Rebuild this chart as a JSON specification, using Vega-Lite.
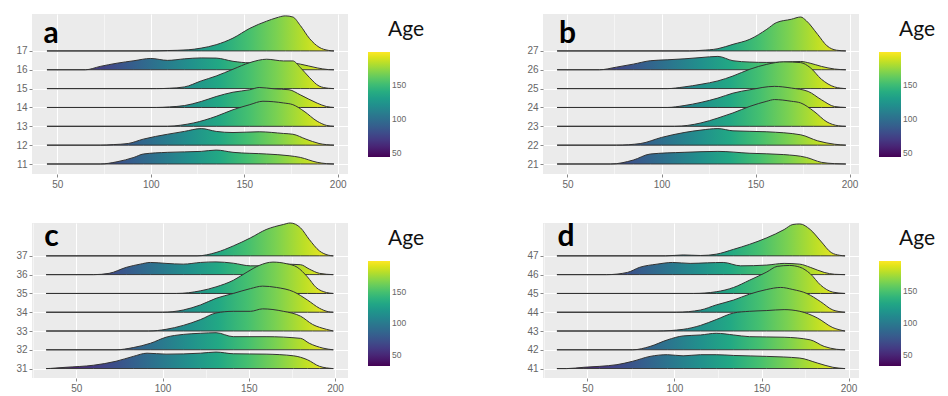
{
"$schema": "https://vega.github.io/schema/vega-lite/v6.json",
"padding": {"left": 15, "top": 13, "right": 0, "bottom": 0},
"config": {
 "font": "Liberation Sans",
 "view": {"fill": "#ebebeb", "stroke": null},
 "axis": {"domain": false, "labelFontSize": 10, "labelColor": "#666666", "tickColor": "#888888", "tickSize": 3, "labelPadding": 2, "gridColor": "#ffffff", "labelOverlap": false},
 "legend": {"orient": "right", "offset": 15, "padding": 5, "gradientLength": 105, "gradientThickness": 22, "gradientStrokeWidth": 0, "labelFontSize": 8.5, "labelColor": "#666666", "labelOffset": 7, "titleFont": "Lato", "titleFontSize": 21, "titleFontWeight": "normal", "titleColor": "#111111", "titlePadding": 12, "titleAnchor": "end", "titleAlign": "center"}
},
"datasets": {
"A": [
{"s":17,"x":44.5,"y":17},{"s":17,"x":100,"y":17},{"s":17,"x":109,"y":17.02},{"s":17,"x":120,"y":17.06},{"s":17,"x":127,"y":17.15},{"s":17,"x":135,"y":17.33},{"s":17,"x":144,"y":17.68},{"s":17,"x":153,"y":18.2},{"s":17,"x":162,"y":18.58},{"s":17,"x":167,"y":18.75},{"s":17,"x":172,"y":18.86},{"s":17,"x":176,"y":18.8},{"s":17,"x":180,"y":18.35},{"s":17,"x":185,"y":17.65},{"s":17,"x":190,"y":17.2},{"s":17,"x":195,"y":17.03},{"s":17,"x":198,"y":17},
{"s":16,"x":44.5,"y":16},{"s":16,"x":65,"y":16},{"s":16,"x":73,"y":16.18},{"s":16,"x":82,"y":16.35},{"s":16,"x":91,"y":16.48},{"s":16,"x":100,"y":16.6},{"s":16,"x":109,"y":16.5},{"s":16,"x":118,"y":16.58},{"s":16,"x":127,"y":16.63},{"s":16,"x":135,"y":16.62},{"s":16,"x":144,"y":16.45},{"s":16,"x":153,"y":16.37},{"s":16,"x":162,"y":16.4},{"s":16,"x":171,"y":16.4},{"s":16,"x":180,"y":16.3},{"s":16,"x":189,"y":16.1},{"s":16,"x":195,"y":16.01},{"s":16,"x":198,"y":16},
{"s":15,"x":44.5,"y":15},{"s":15,"x":103,"y":15},{"s":15,"x":110,"y":15.02},{"s":15,"x":118,"y":15.09},{"s":15,"x":127,"y":15.41},{"s":15,"x":135,"y":15.67},{"s":15,"x":144,"y":16.03},{"s":15,"x":153,"y":16.38},{"s":15,"x":162,"y":16.56},{"s":15,"x":171,"y":16.47},{"s":15,"x":176,"y":16.47},{"s":15,"x":180,"y":16.12},{"s":15,"x":185,"y":15.58},{"s":15,"x":190,"y":15.14},{"s":15,"x":195,"y":15.02},{"s":15,"x":198,"y":15},
{"s":14,"x":44.5,"y":14},{"s":14,"x":103,"y":14},{"s":14,"x":110,"y":14.03},{"s":14,"x":118,"y":14.1},{"s":14,"x":127,"y":14.32},{"s":14,"x":135,"y":14.58},{"s":14,"x":144,"y":14.81},{"s":14,"x":153,"y":14.94},{"s":14,"x":158,"y":15.06},{"s":14,"x":166,"y":14.99},{"s":14,"x":174,"y":14.94},{"s":14,"x":180,"y":14.67},{"s":14,"x":189,"y":14.23},{"s":14,"x":194,"y":14.05},{"s":14,"x":198,"y":14},
{"s":13,"x":44.5,"y":13},{"s":13,"x":109,"y":13},{"s":13,"x":116,"y":13.06},{"s":13,"x":123,"y":13.18},{"s":13,"x":135,"y":13.53},{"s":13,"x":144,"y":13.88},{"s":13,"x":153,"y":14.15},{"s":13,"x":160,"y":14.33},{"s":13,"x":171,"y":14.24},{"s":13,"x":176,"y":14.15},{"s":13,"x":182,"y":13.8},{"s":13,"x":189,"y":13.27},{"s":13,"x":194,"y":13.05},{"s":13,"x":198,"y":13},
{"s":12,"x":44.5,"y":12},{"s":12,"x":73,"y":12},{"s":12,"x":80,"y":12.03},{"s":12,"x":88,"y":12.09},{"s":12,"x":96,"y":12.32},{"s":12,"x":109,"y":12.58},{"s":12,"x":118,"y":12.73},{"s":12,"x":127,"y":12.88},{"s":12,"x":135,"y":12.73},{"s":12,"x":144,"y":12.67},{"s":12,"x":158,"y":12.71},{"s":12,"x":171,"y":12.62},{"s":12,"x":176,"y":12.58},{"s":12,"x":183,"y":12.32},{"s":12,"x":190,"y":12.09},{"s":12,"x":198,"y":12},
{"s":11,"x":44.5,"y":11},{"s":11,"x":73,"y":11},{"s":11,"x":82,"y":11.12},{"s":11,"x":91,"y":11.35},{"s":11,"x":96,"y":11.53},{"s":11,"x":109,"y":11.62},{"s":11,"x":127,"y":11.67},{"s":11,"x":135,"y":11.74},{"s":11,"x":144,"y":11.62},{"s":11,"x":162,"y":11.53},{"s":11,"x":174,"y":11.44},{"s":11,"x":180,"y":11.35},{"s":11,"x":189,"y":11.09},{"s":11,"x":194,"y":11.02},{"s":11,"x":198,"y":11}
],
"B": [
{"s":27,"x":44.5,"y":27},{"s":27,"x":115,"y":27},{"s":27,"x":121,"y":27.03},{"s":27,"x":130,"y":27.12},{"s":27,"x":138,"y":27.35},{"s":27,"x":147,"y":27.62},{"s":27,"x":156,"y":28.15},{"s":27,"x":161,"y":28.5},{"s":27,"x":169,"y":28.68},{"s":27,"x":174,"y":28.8},{"s":27,"x":177,"y":28.6},{"s":27,"x":183,"y":27.88},{"s":27,"x":188,"y":27.27},{"s":27,"x":193,"y":27.04},{"s":27,"x":198,"y":27},
{"s":26,"x":44.5,"y":26},{"s":26,"x":67,"y":26},{"s":26,"x":76,"y":26.14},{"s":26,"x":85,"y":26.3},{"s":26,"x":94,"y":26.48},{"s":26,"x":103,"y":26.53},{"s":26,"x":112,"y":26.58},{"s":26,"x":121,"y":26.65},{"s":26,"x":130,"y":26.71},{"s":26,"x":138,"y":26.48},{"s":26,"x":147,"y":26.41},{"s":26,"x":156,"y":26.39},{"s":26,"x":165,"y":26.41},{"s":26,"x":174,"y":26.44},{"s":26,"x":179,"y":26.35},{"s":26,"x":185,"y":26.18},{"s":26,"x":192,"y":26.04},{"s":26,"x":198,"y":26},
{"s":25,"x":44.5,"y":25},{"s":25,"x":103,"y":25},{"s":25,"x":112,"y":25.09},{"s":25,"x":121,"y":25.23},{"s":25,"x":130,"y":25.41},{"s":25,"x":138,"y":25.67},{"s":25,"x":147,"y":26.03},{"s":25,"x":156,"y":26.29},{"s":25,"x":165,"y":26.42},{"s":25,"x":174,"y":26.38},{"s":25,"x":179,"y":26.12},{"s":25,"x":185,"y":25.5},{"s":25,"x":192,"y":25.09},{"s":25,"x":198,"y":25},
{"s":24,"x":44.5,"y":24},{"s":24,"x":103,"y":24},{"s":24,"x":112,"y":24.1},{"s":24,"x":121,"y":24.27},{"s":24,"x":130,"y":24.5},{"s":24,"x":138,"y":24.76},{"s":24,"x":147,"y":24.94},{"s":24,"x":160,"y":25.12},{"s":24,"x":169,"y":25.03},{"s":24,"x":178,"y":24.85},{"s":24,"x":185,"y":24.41},{"s":24,"x":192,"y":24.05},{"s":24,"x":198,"y":24},
{"s":23,"x":44.5,"y":23},{"s":23,"x":107,"y":23},{"s":23,"x":121,"y":23.18},{"s":23,"x":130,"y":23.44},{"s":23,"x":138,"y":23.71},{"s":23,"x":147,"y":24.06},{"s":23,"x":156,"y":24.33},{"s":23,"x":160,"y":24.42},{"s":23,"x":169,"y":24.33},{"s":23,"x":174,"y":24.24},{"s":23,"x":181,"y":23.8},{"s":23,"x":188,"y":23.23},{"s":23,"x":194,"y":23.03},{"s":23,"x":198,"y":23},
{"s":22,"x":44.5,"y":22},{"s":22,"x":76,"y":22},{"s":22,"x":89,"y":22.09},{"s":22,"x":100,"y":22.41},{"s":22,"x":112,"y":22.67},{"s":22,"x":121,"y":22.8},{"s":22,"x":130,"y":22.88},{"s":22,"x":138,"y":22.76},{"s":22,"x":156,"y":22.71},{"s":22,"x":174,"y":22.55},{"s":22,"x":183,"y":22.23},{"s":22,"x":192,"y":22.05},{"s":22,"x":198,"y":22},
{"s":21,"x":44.5,"y":21},{"s":21,"x":73,"y":21},{"s":21,"x":85,"y":21.21},{"s":21,"x":94,"y":21.53},{"s":21,"x":112,"y":21.62},{"s":21,"x":130,"y":21.67},{"s":21,"x":147,"y":21.57},{"s":21,"x":165,"y":21.5},{"s":21,"x":177,"y":21.35},{"s":21,"x":185,"y":21.09},{"s":21,"x":192,"y":21.02},{"s":21,"x":198,"y":21}
],
"C": [
{"s":37,"x":32.5,"y":37},{"s":37,"x":120,"y":37},{"s":37,"x":131,"y":37.18},{"s":37,"x":141,"y":37.53},{"s":37,"x":151,"y":37.96},{"s":37,"x":160,"y":38.4},{"s":37,"x":170,"y":38.67},{"s":37,"x":174,"y":38.75},{"s":37,"x":180,"y":38.49},{"s":37,"x":185,"y":37.88},{"s":37,"x":191,"y":37.26},{"s":37,"x":196,"y":37.04},{"s":37,"x":199,"y":37},
{"s":36,"x":32.5,"y":36},{"s":36,"x":60,"y":36},{"s":36,"x":69,"y":36.07},{"s":36,"x":79,"y":36.39},{"s":36,"x":87,"y":36.56},{"s":36,"x":93,"y":36.65},{"s":36,"x":102,"y":36.6},{"s":36,"x":112,"y":36.56},{"s":36,"x":122,"y":36.65},{"s":36,"x":131,"y":36.68},{"s":36,"x":141,"y":36.61},{"s":36,"x":151,"y":36.47},{"s":36,"x":160,"y":36.47},{"s":36,"x":170,"y":36.56},{"s":36,"x":180,"y":36.53},{"s":36,"x":185,"y":36.3},{"s":36,"x":191,"y":36.07},{"s":36,"x":199,"y":36},
{"s":35,"x":32.5,"y":35},{"s":35,"x":108,"y":35},{"s":35,"x":122,"y":35.14},{"s":35,"x":131,"y":35.35},{"s":35,"x":141,"y":35.7},{"s":35,"x":149,"y":36.14},{"s":35,"x":156,"y":36.49},{"s":35,"x":164,"y":36.67},{"s":35,"x":172,"y":36.58},{"s":35,"x":178,"y":36.4},{"s":35,"x":184,"y":35.88},{"s":35,"x":189,"y":35.32},{"s":35,"x":195,"y":35.05},{"s":35,"x":199,"y":35},
{"s":34,"x":32.5,"y":34},{"s":34,"x":100,"y":34},{"s":34,"x":112,"y":34.12},{"s":34,"x":122,"y":34.39},{"s":34,"x":131,"y":34.74},{"s":34,"x":141,"y":35},{"s":34,"x":151,"y":35.26},{"s":34,"x":158,"y":35.39},{"s":34,"x":166,"y":35.32},{"s":34,"x":176,"y":35.09},{"s":34,"x":184,"y":34.65},{"s":34,"x":191,"y":34.21},{"s":34,"x":196,"y":34.03},{"s":34,"x":199,"y":34},
{"s":33,"x":32.5,"y":33},{"s":33,"x":92,"y":33},{"s":33,"x":102,"y":33.09},{"s":33,"x":112,"y":33.3},{"s":33,"x":122,"y":33.61},{"s":33,"x":131,"y":33.96},{"s":33,"x":141,"y":34.05},{"s":33,"x":151,"y":34.05},{"s":33,"x":158,"y":34.18},{"s":33,"x":170,"y":34.05},{"s":33,"x":180,"y":33.79},{"s":33,"x":187,"y":33.35},{"s":33,"x":195,"y":33.09},{"s":33,"x":199,"y":33},
{"s":32,"x":32.5,"y":32},{"s":32,"x":73,"y":32},{"s":32,"x":83,"y":32.12},{"s":32,"x":93,"y":32.35},{"s":32,"x":102,"y":32.67},{"s":32,"x":112,"y":32.82},{"s":32,"x":122,"y":32.88},{"s":32,"x":131,"y":32.91},{"s":32,"x":141,"y":32.7},{"s":32,"x":160,"y":32.7},{"s":32,"x":180,"y":32.61},{"s":32,"x":185,"y":32.35},{"s":32,"x":193,"y":32.09},{"s":32,"x":199,"y":32},
{"s":31,"x":32.5,"y":31},{"s":31,"x":35,"y":31.01},{"s":31,"x":44,"y":31.07},{"s":31,"x":60,"y":31.18},{"s":31,"x":73,"y":31.39},{"s":31,"x":83,"y":31.65},{"s":31,"x":91,"y":31.82},{"s":31,"x":102,"y":31.77},{"s":31,"x":122,"y":31.82},{"s":31,"x":131,"y":31.88},{"s":31,"x":141,"y":31.79},{"s":31,"x":160,"y":31.77},{"s":31,"x":176,"y":31.68},{"s":31,"x":184,"y":31.47},{"s":31,"x":191,"y":31.12},{"s":31,"x":199,"y":31}
],
"D": [
{"s":47,"x":32.5,"y":47},{"s":47,"x":95,"y":47},{"s":47,"x":105,"y":47.05},{"s":47,"x":115,"y":47.02},{"s":47,"x":124,"y":47.09},{"s":47,"x":134,"y":47.35},{"s":47,"x":143,"y":47.61},{"s":47,"x":153,"y":47.96},{"s":47,"x":163,"y":48.4},{"s":47,"x":168,"y":48.67},{"s":47,"x":172,"y":48.7},{"s":47,"x":178,"y":48.4},{"s":47,"x":184,"y":47.79},{"s":47,"x":190,"y":47.18},{"s":47,"x":195,"y":47.03},{"s":47,"x":198,"y":47},
{"s":46,"x":32.5,"y":46},{"s":46,"x":61,"y":46},{"s":46,"x":73,"y":46.12},{"s":46,"x":80,"y":46.39},{"s":46,"x":90,"y":46.56},{"s":46,"x":99,"y":46.65},{"s":46,"x":109,"y":46.6},{"s":46,"x":119,"y":46.63},{"s":46,"x":128,"y":46.65},{"s":46,"x":138,"y":46.47},{"s":46,"x":153,"y":46.51},{"s":46,"x":163,"y":46.6},{"s":46,"x":172,"y":46.56},{"s":46,"x":178,"y":46.39},{"s":46,"x":186,"y":46.12},{"s":46,"x":192,"y":46.02},{"s":46,"x":198,"y":46},
{"s":45,"x":32.5,"y":45},{"s":45,"x":111,"y":45},{"s":45,"x":124,"y":45.09},{"s":45,"x":134,"y":45.32},{"s":45,"x":143,"y":45.7},{"s":45,"x":153,"y":46.14},{"s":45,"x":159,"y":46.44},{"s":45,"x":166,"y":46.49},{"s":45,"x":172,"y":46.4},{"s":45,"x":178,"y":46.05},{"s":45,"x":184,"y":45.44},{"s":45,"x":191,"y":45.07},{"s":45,"x":198,"y":45},
{"s":44,"x":32.5,"y":44},{"s":44,"x":101,"y":44},{"s":44,"x":115,"y":44.12},{"s":44,"x":124,"y":44.39},{"s":44,"x":134,"y":44.65},{"s":44,"x":143,"y":44.96},{"s":44,"x":153,"y":45.21},{"s":44,"x":161,"y":45.32},{"s":44,"x":168,"y":45.21},{"s":44,"x":176,"y":45},{"s":44,"x":184,"y":44.56},{"s":44,"x":191,"y":44.12},{"s":44,"x":198,"y":44},
{"s":43,"x":32.5,"y":43},{"s":43,"x":90,"y":43},{"s":43,"x":105,"y":43.09},{"s":43,"x":115,"y":43.3},{"s":43,"x":124,"y":43.61},{"s":43,"x":134,"y":43.96},{"s":43,"x":143,"y":44.05},{"s":43,"x":153,"y":44.09},{"s":43,"x":163,"y":44.14},{"s":43,"x":172,"y":44.05},{"s":43,"x":182,"y":43.7},{"s":43,"x":191,"y":43.18},{"s":43,"x":198,"y":43},
{"s":42,"x":32.5,"y":42},{"s":42,"x":76,"y":42},{"s":42,"x":86,"y":42.18},{"s":42,"x":96,"y":42.53},{"s":42,"x":105,"y":42.74},{"s":42,"x":115,"y":42.79},{"s":42,"x":124,"y":42.88},{"s":42,"x":134,"y":42.79},{"s":42,"x":143,"y":42.7},{"s":42,"x":163,"y":42.67},{"s":42,"x":178,"y":42.53},{"s":42,"x":186,"y":42.18},{"s":42,"x":193,"y":42.03},{"s":42,"x":198,"y":42},
{"s":41,"x":32.5,"y":41},{"s":41,"x":38,"y":41},{"s":41,"x":48,"y":41.07},{"s":41,"x":57,"y":41.12},{"s":41,"x":67,"y":41.21},{"s":41,"x":76,"y":41.39},{"s":41,"x":86,"y":41.65},{"s":41,"x":96,"y":41.74},{"s":41,"x":105,"y":41.68},{"s":41,"x":115,"y":41.74},{"s":41,"x":124,"y":41.74},{"s":41,"x":134,"y":41.7},{"s":41,"x":153,"y":41.65},{"s":41,"x":172,"y":41.56},{"s":41,"x":182,"y":41.3},{"s":41,"x":191,"y":41.07},{"s":41,"x":198,"y":41}
],
"L": [{"p":"a","x":42.6,"y":17.42},{"p":"b","x":45.5,"y":27.42},{"p":"c","x":31.4,"y":37.53},{"p":"d","x":32.8,"y":47.53}]
},
"columns": 2,
"spacing": {"row": 49, "column": 195},
"bounds": "flush",
"resolve": {"scale": {"x": "independent", "y": "independent", "color": "independent"}, "legend": {"color": "independent"}},
"concat": [
{
 "width": 316, "height": 160,
 "encoding": {
  "x": {"field": "x", "type": "quantitative", "title": null, "scale": {"domain": [36.5, 205.5], "nice": false, "zero": false},
        "axis": {"values": [50,75,100,125,150,175,200], "labelOverlap": false, "labelExpr": "datum.value % 50 === 0 ? datum.label : ''", "gridWidth": {"condition": {"test": "datum.value % 50 === 0", "value": 1.1}, "value": 0.5}, "tickOpacity": {"condition": {"test": "datum.value % 50 === 0", "value": 1}, "value": 0}}},
  "y": {"field": "y", "type": "quantitative", "title": null, "stack": null, "scale": {"domain": [10.47, 18.96], "nice": false, "zero": false}, "axis": {"values": [11,12,13,14,15,16,17], "format": "d", "gridWidth": 1.1, "labelOverlap": false}}
 },
 "layer": [
  {"data": {"name": "A"},
   "mark": {"type": "area", "interpolate": "monotone", "stroke": "#333333", "strokeWidth": 1, "fill": {"gradient": "linear", "x1": 0, "y1": 0, "x2": 1, "y2": 0, "stops": [{"offset": 0, "color": "#440154"}, {"offset": 0.1, "color": "#482475"}, {"offset": 0.2, "color": "#414487"}, {"offset": 0.3, "color": "#355f8d"}, {"offset": 0.4, "color": "#2a788e"}, {"offset": 0.5, "color": "#21918c"}, {"offset": 0.6, "color": "#22a884"}, {"offset": 0.7, "color": "#44bf70"}, {"offset": 0.8, "color": "#7ad151"}, {"offset": 0.9, "color": "#bddf26"}, {"offset": 1, "color": "#fde725"}]}},
   "encoding": {"y2": {"field": "s"}, "detail": {"field": "s", "type": "nominal"}}},
  {"data": {"name": "A"},
   "mark": {"type": "point", "filled": true, "size": 0, "opacity": 1},
   "encoding": {"color": {"field": "x", "type": "quantitative", "title": "Age", "scale": {"scheme": "viridis", "domain": [44.5, 198]}, "legend": {"values": [50, 100, 150]}}}},
  {"data": {"name": "L"}, "transform": [{"filter": "datum.p === 'a'"}],
   "mark": {"type": "text", "font": "Lato", "fontWeight": "bold", "fontSize": 30, "align": "left", "baseline": "alphabetic", "color": "#000000"},
   "encoding": {"text": {"field": "p", "type": "nominal"}}}
 ]
},
{
 "width": 316, "height": 160,
 "encoding": {
  "x": {"field": "x", "type": "quantitative", "title": null, "scale": {"domain": [37, 205], "nice": false, "zero": false},
        "axis": {"values": [50,75,100,125,150,175,200], "labelOverlap": false, "labelExpr": "datum.value % 50 === 0 ? datum.label : ''", "gridWidth": {"condition": {"test": "datum.value % 50 === 0", "value": 1.1}, "value": 0.5}, "tickOpacity": {"condition": {"test": "datum.value % 50 === 0", "value": 1}, "value": 0}}},
  "y": {"field": "y", "type": "quantitative", "title": null, "stack": null, "scale": {"domain": [20.47, 28.96], "nice": false, "zero": false}, "axis": {"values": [21,22,23,24,25,26,27], "format": "d", "gridWidth": 1.1, "labelOverlap": false}}
 },
 "layer": [
  {"data": {"name": "B"},
   "mark": {"type": "area", "interpolate": "monotone", "stroke": "#333333", "strokeWidth": 1, "fill": {"gradient": "linear", "x1": 0, "y1": 0, "x2": 1, "y2": 0, "stops": [{"offset": 0, "color": "#440154"}, {"offset": 0.1, "color": "#482475"}, {"offset": 0.2, "color": "#414487"}, {"offset": 0.3, "color": "#355f8d"}, {"offset": 0.4, "color": "#2a788e"}, {"offset": 0.5, "color": "#21918c"}, {"offset": 0.6, "color": "#22a884"}, {"offset": 0.7, "color": "#44bf70"}, {"offset": 0.8, "color": "#7ad151"}, {"offset": 0.9, "color": "#bddf26"}, {"offset": 1, "color": "#fde725"}]}},
   "encoding": {"y2": {"field": "s"}, "detail": {"field": "s", "type": "nominal"}}},
  {"data": {"name": "B"},
   "mark": {"type": "point", "filled": true, "size": 0, "opacity": 1},
   "encoding": {"color": {"field": "x", "type": "quantitative", "title": "Age", "scale": {"scheme": "viridis", "domain": [44.5, 198]}, "legend": {"values": [50, 100, 150]}}}},
  {"data": {"name": "L"}, "transform": [{"filter": "datum.p === 'b'"}],
   "mark": {"type": "text", "font": "Lato", "fontWeight": "bold", "fontSize": 30, "align": "left", "baseline": "alphabetic", "color": "#000000"},
   "encoding": {"text": {"field": "p", "type": "nominal"}}}
 ]
},
{
 "width": 316, "height": 155,
 "encoding": {
  "x": {"field": "x", "type": "quantitative", "title": null, "scale": {"domain": [24.3, 207.5], "nice": false, "zero": false},
        "axis": {"values": [25,50,75,100,125,150,175,200], "labelOverlap": false, "labelExpr": "datum.value % 50 === 0 ? datum.label : ''", "gridWidth": {"condition": {"test": "datum.value % 50 === 0", "value": 1.1}, "value": 0.5}, "tickOpacity": {"condition": {"test": "datum.value % 50 === 0", "value": 1}, "value": 0}}},
  "y": {"field": "y", "type": "quantitative", "title": null, "stack": null, "scale": {"domain": [30.5, 38.75], "nice": false, "zero": false}, "axis": {"values": [31,32,33,34,35,36,37], "format": "d", "gridWidth": 1.1, "labelOverlap": false}}
 },
 "layer": [
  {"data": {"name": "C"},
   "mark": {"type": "area", "interpolate": "monotone", "stroke": "#333333", "strokeWidth": 1, "fill": {"gradient": "linear", "x1": 0, "y1": 0, "x2": 1, "y2": 0, "stops": [{"offset": 0, "color": "#440154"}, {"offset": 0.1, "color": "#482475"}, {"offset": 0.2, "color": "#414487"}, {"offset": 0.3, "color": "#355f8d"}, {"offset": 0.4, "color": "#2a788e"}, {"offset": 0.5, "color": "#21918c"}, {"offset": 0.6, "color": "#22a884"}, {"offset": 0.7, "color": "#44bf70"}, {"offset": 0.8, "color": "#7ad151"}, {"offset": 0.9, "color": "#bddf26"}, {"offset": 1, "color": "#fde725"}]}},
   "encoding": {"y2": {"field": "s"}, "detail": {"field": "s", "type": "nominal"}}},
  {"data": {"name": "C"},
   "mark": {"type": "point", "filled": true, "size": 0, "opacity": 1},
   "encoding": {"color": {"field": "x", "type": "quantitative", "title": "Age", "scale": {"scheme": "viridis", "domain": [32.5, 199]}, "legend": {"values": [50, 100, 150]}}}},
  {"data": {"name": "L"}, "transform": [{"filter": "datum.p === 'c'"}],
   "mark": {"type": "text", "font": "Lato", "fontWeight": "bold", "fontSize": 30, "align": "left", "baseline": "alphabetic", "color": "#000000"},
   "encoding": {"text": {"field": "p", "type": "nominal"}}}
 ]
},
{
 "width": 316, "height": 155,
 "encoding": {
  "x": {"field": "x", "type": "quantitative", "title": null, "scale": {"domain": [24.5, 206], "nice": false, "zero": false},
        "axis": {"values": [25,50,75,100,125,150,175,200], "labelOverlap": false, "labelExpr": "datum.value % 50 === 0 ? datum.label : ''", "gridWidth": {"condition": {"test": "datum.value % 50 === 0", "value": 1.1}, "value": 0.5}, "tickOpacity": {"condition": {"test": "datum.value % 50 === 0", "value": 1}, "value": 0}}},
  "y": {"field": "y", "type": "quantitative", "title": null, "stack": null, "scale": {"domain": [40.5, 48.75], "nice": false, "zero": false}, "axis": {"values": [41,42,43,44,45,46,47], "format": "d", "gridWidth": 1.1, "labelOverlap": false}}
 },
 "layer": [
  {"data": {"name": "D"},
   "mark": {"type": "area", "interpolate": "monotone", "stroke": "#333333", "strokeWidth": 1, "fill": {"gradient": "linear", "x1": 0, "y1": 0, "x2": 1, "y2": 0, "stops": [{"offset": 0, "color": "#440154"}, {"offset": 0.1, "color": "#482475"}, {"offset": 0.2, "color": "#414487"}, {"offset": 0.3, "color": "#355f8d"}, {"offset": 0.4, "color": "#2a788e"}, {"offset": 0.5, "color": "#21918c"}, {"offset": 0.6, "color": "#22a884"}, {"offset": 0.7, "color": "#44bf70"}, {"offset": 0.8, "color": "#7ad151"}, {"offset": 0.9, "color": "#bddf26"}, {"offset": 1, "color": "#fde725"}]}},
   "encoding": {"y2": {"field": "s"}, "detail": {"field": "s", "type": "nominal"}}},
  {"data": {"name": "D"},
   "mark": {"type": "point", "filled": true, "size": 0, "opacity": 1},
   "encoding": {"color": {"field": "x", "type": "quantitative", "title": "Age", "scale": {"scheme": "viridis", "domain": [32.5, 198]}, "legend": {"values": [50, 100, 150]}}}},
  {"data": {"name": "L"}, "transform": [{"filter": "datum.p === 'd'"}],
   "mark": {"type": "text", "font": "Lato", "fontWeight": "bold", "fontSize": 30, "align": "left", "baseline": "alphabetic", "color": "#000000"},
   "encoding": {"text": {"field": "p", "type": "nominal"}}}
 ]
}
]
}
